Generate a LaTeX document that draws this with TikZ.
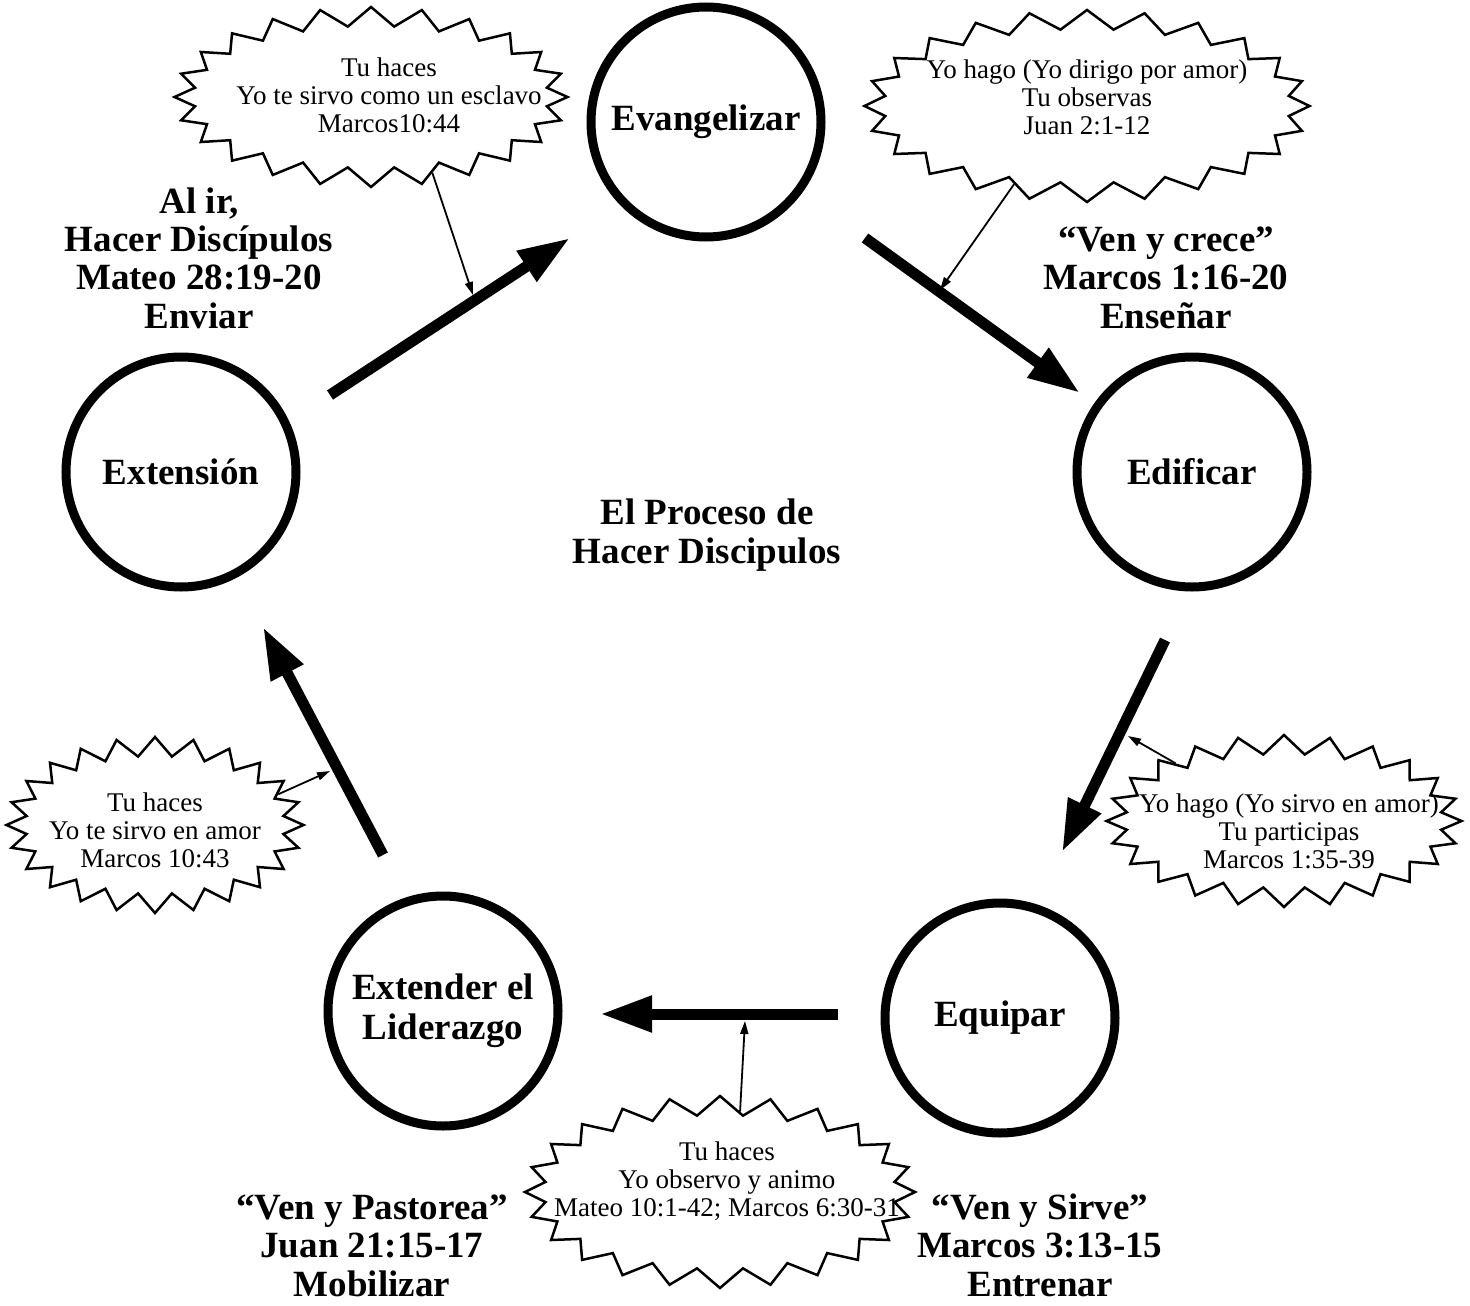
\documentclass[tikz,border=0pt]{standalone}
\usepackage{fontspec}
\setmainfont{Liberation Serif}
\usetikzlibrary{shapes.symbols, arrows.meta}

\begin{document}
\begin{tikzpicture}[x=1pt, y=-1pt,
        stage/.style={circle, draw, line width=9pt, minimum size=230pt, inner sep=0pt, align=center, font=\bfseries\fontsize{37}{40}\selectfont},
        burst/.style={starburst, draw, line width=2.5pt, starburst points=24, starburst point height=19pt, random starburst=0, inner sep=0pt},
        bursttext/.style={align=center, inner sep=0pt, font=\fontsize{27}{28}\selectfont},
        title/.style={align=center, anchor=base, font=\bfseries\fontsize{37}{38.3}\selectfont},
        bigarrow/.style={line width=11pt, -{Triangle[length=52pt, width=34pt]}},
        smallarrow/.style={line width=1.8pt, -{Triangle[length=13pt, width=8pt]}}]

        \useasboundingbox (0, 0) rectangle (1470, 1306);

        % the five stages
        \node[stage] (evang) at (706, 122) {Evangelizar};
        \node[stage] (edif) at (1192, 472) {Edificar};
        \node[stage] (equip) at (1000, 1018) {Equipar};
        \node[stage] (lider) at (443, 1011) {Extender el\\Liderazgo};
        \node[stage] (exten) at (181, 472) {Extensión};

        \node[title] (proceso) at (707, 563) {El Proceso de\\Hacer Discipulos};

        % thick arrows between the stages
        \coordinate (a1) at (330, 395);
        \coordinate (b1) at (570, 238);
        \coordinate (a2) at (865, 238);
        \coordinate (b2) at (1080, 393);
        \coordinate (a3) at (1165, 640);
        \coordinate (b3) at (1062, 852);
        \coordinate (a4) at (838, 1014);
        \coordinate (b4) at (600, 1014);
        \coordinate (a5) at (383, 855);
        \coordinate (b5) at (263, 627);
        \draw[bigarrow] (a1) -- (b1);
        \draw[bigarrow] (a2) -- (b2);
        \draw[bigarrow] (a3) -- (b3);
        \draw[bigarrow] (a4) -- (b4);
        \draw[bigarrow] (a5) -- (b5);

        % the starbursts
        \node[burst, minimum width=393pt, minimum height=180pt, label={[bursttext, xshift=18pt, yshift=2pt]center:{Tu haces\\Yo te sirvo como un esclavo\\Marcos10:44}}] (btl) at (371, 97) {};
        \node[burst, minimum width=445pt, minimum height=192pt, label={[bursttext, yshift=9pt]center:{Yo hago (Yo dirigo por amor)\\Tu observas\\Juan 2:1-12}}] (btr) at (1087, 106) {};
        \node[burst, minimum width=355pt, minimum height=172pt, label={[bursttext, xshift=5pt, yshift=-10pt]center:{Yo hago (Yo sirvo en amor)\\Tu participas\\Marcos 1:35-39}}] (br) at (1284, 821) {};
        \node[burst, minimum width=297pt, minimum height=176pt, label={[bursttext, yshift=-5pt]center:{Tu haces\\Yo te sirvo en amor\\Marcos 10:43}}] (bl) at (155, 825) {};
        \node[burst, minimum width=390pt, minimum height=192pt, label={[bursttext, xshift=7pt, yshift=11pt]center:{Tu haces\\Yo observo y animo\\Mateo 10:1-42; Marcos 6:30-31}}] (bb) at (720, 1192) {};

        % thin arrows from the starbursts
        \coordinate (t1) at (473, 295);
        \coordinate (t2) at (940, 290);
        \coordinate (t3) at (1128, 736);
        \coordinate (t4) at (330, 771);
        \coordinate (t5) at (745, 1021);
        \draw[smallarrow] (btl.-51) -- (t1);
        \draw[smallarrow] (btr.-133) -- (t2);
        \draw[smallarrow] (br.152) -- (t3);
        \draw[smallarrow] (bl.14) -- (t4);
        \draw[smallarrow] (bb.76) -- (t5);

        \node[title] (alir) at (199, 328) {Al ir,\\Hacer Discípulos\\Mateo 28:19-20\\Enviar};
        \node[title] (crece) at (1166, 328) {“Ven y crece”\\Marcos 1:16-20\\Enseñar};
        \node[title] (pastorea) at (372, 1296) {“Ven y Pastorea”\\Juan 21:15-17\\Mobilizar};
        \node[title] (sirve) at (1040, 1296) {“Ven y Sirve”\\Marcos 3:13-15\\Entrenar};

    \end{tikzpicture}
\end{document}
